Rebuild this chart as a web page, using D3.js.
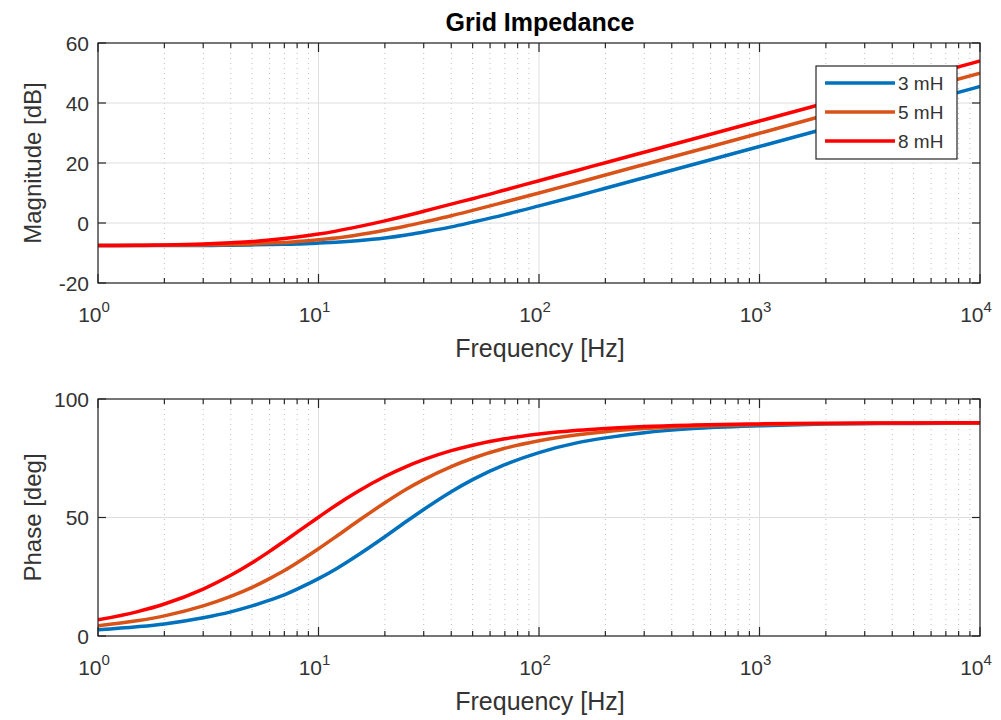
<!DOCTYPE html>
<html>
<head>
<meta charset="utf-8">
<script src="https://cdn.jsdelivr.net/npm/d3@7"></script>
<style>
  body { margin: 0; background: #fff; }
  svg text { font-family: "Liberation Sans", Arial, sans-serif; }
</style>
</head>
<body>
<div id="chart"></div>
<script>
// ── Data ────────────────────────────────────────────────────────────────────
const freqs = [1, 1.5, 2, 3, 4, 5, 6, 7, 8, 10, 12, 15, 20, 25, 30, 40, 50, 70, 100, 150, 200, 300, 500, 1000, 2000, 5000, 10000];

const mag3mH = [-7.5, -7.5, -7.5, -7.5, -7.4, -7.3, -7.2, -7.1, -7.0, -6.7, -6.4, -5.9, -5.0, -4.0, -3.0, -1.3, 0.3, 2.8, 5.7, 9.1, 11.6, 15.1, 19.5, 25.5, 31.5, 39.5, 45.5];
const mag5mH = [-7.5, -7.5, -7.4, -7.3, -7.2, -7.0, -6.7, -6.5, -6.2, -5.6, -5.0, -4.0, -2.4, -1.0, 0.3, 2.4, 4.2, 7.0, 10.0, 13.5, 16.0, 19.5, 23.9, 29.9, 36.0, 43.9, 49.9];
const mag8mH = [-7.5, -7.4, -7.3, -7.0, -6.6, -6.2, -5.7, -5.2, -4.7, -3.7, -2.7, -1.3, 0.7, 2.4, 3.9, 6.3, 8.1, 11.0, 14.1, 17.6, 20.1, 23.6, 28.0, 34.0, 40.0, 48.0, 54.0];

const ph3mH = [2.6, 3.9, 5.1, 7.7, 10.2, 12.7, 15.1, 17.4, 19.8, 24.2, 28.3, 34.0, 41.9, 48.3, 53.4, 60.9, 66.0, 72.3, 77.4, 81.6, 83.6, 85.8, 87.5, 88.7, 89.4, 89.7, 89.9];
const ph5mH = [4.3, 6.4, 8.5, 12.7, 16.7, 20.5, 24.2, 27.6, 30.9, 36.8, 41.9, 48.3, 56.2, 61.9, 66.0, 71.5, 75.0, 79.2, 82.4, 84.9, 86.2, 87.5, 88.5, 89.2, 89.6, 89.9, 89.9];
const ph8mH = [6.8, 10.2, 13.5, 19.8, 25.6, 30.9, 35.7, 40.0, 43.8, 50.1, 55.2, 60.9, 67.3, 71.5, 74.4, 78.2, 80.5, 83.2, 85.2, 86.8, 87.6, 88.4, 89.0, 89.5, 89.8, 89.9, 90.0];

const seriesNames  = ["3 mH", "5 mH", "8 mH"];
const seriesColors = ["#0072BD", "#D95319", "#FF0000"];

const magTicks   = [-20, 0, 20, 40, 60];
const phaseTicks = [0, 50, 100];
const decadeExps = [0, 1, 2, 3, 4];

// ── Layout ──────────────────────────────────────────────────────────────────
const W = 1001, H = 720;
const left = 98, right = 980;
const axisColor = "#262626";

const svg = d3.select("#chart").append("svg")
  .attr("width", W).attr("height", H);

const x = d3.scaleLog().domain([1, 10000]).range([left, right]);

const majorX = decadeExps.map(e => Math.pow(10, e));
const minorX = [];
decadeExps.slice(0, -1).forEach(e => {
  for (let k = 2; k <= 9; k++) minorX.push(k * Math.pow(10, e));
});

// title
svg.append("text")
  .attr("x", (left + right) / 2 + 1).attr("y", 31)
  .attr("text-anchor", "middle")
  .style("font-size", "25px").style("font-weight", "bold")
  .style("fill", "#000")
  .text("Grid Impedance");

function drawPanel(top, bottom, yDomain, yTicks, yLabel, data, withLegend) {
  const y = d3.scaleLinear().domain(yDomain).range([bottom, top]);
  const g = svg.append("g");

  // minor dotted grid
  g.selectAll(".minor").data(minorX).enter().append("line")
    .attr("x1", d => x(d)).attr("x2", d => x(d))
    .attr("y1", top).attr("y2", bottom)
    .attr("stroke", "#bdbdbd").attr("stroke-width", 1)
    .attr("stroke-dasharray", "1,4");

  // major grid
  g.selectAll(".majx").data(majorX).enter().append("line")
    .attr("x1", d => x(d)).attr("x2", d => x(d))
    .attr("y1", top).attr("y2", bottom)
    .attr("stroke", "#dedede").attr("stroke-width", 1);
  g.selectAll(".majy").data(yTicks).enter().append("line")
    .attr("x1", left).attr("x2", right)
    .attr("y1", d => y(d)).attr("y2", d => y(d))
    .attr("stroke", "#dedede").attr("stroke-width", 1);

  // curves
  const line = d3.line()
    .x((d, i) => x(freqs[i]))
    .y(d => y(d))
    .curve(d3.curveMonotoneX);

  const clipId = "clip" + top;
  svg.append("clipPath").attr("id", clipId)
    .append("rect").attr("x", left).attr("y", top)
    .attr("width", right - left).attr("height", bottom - top);

  data.forEach((vals, i) => {
    g.append("path")
      .datum(vals)
      .attr("clip-path", `url(#${clipId})`)
      .attr("fill", "none")
      .attr("stroke", seriesColors[i])
      .attr("stroke-width", 3.5)
      .attr("d", line);
  });

  // box
  g.append("rect")
    .attr("x", left).attr("y", top)
    .attr("width", right - left).attr("height", bottom - top)
    .attr("fill", "none").attr("stroke", axisColor).attr("stroke-width", 1.2);

  // ticks (inward, top & bottom, left & right)
  [[majorX, 9], [minorX, 5]].forEach(([vals, len]) => {
    g.selectAll(null).data(vals).enter().append("line")
      .attr("x1", d => x(d)).attr("x2", d => x(d))
      .attr("y1", bottom).attr("y2", bottom - len)
      .attr("stroke", axisColor).attr("stroke-width", 1.2);
    g.selectAll(null).data(vals).enter().append("line")
      .attr("x1", d => x(d)).attr("x2", d => x(d))
      .attr("y1", top).attr("y2", top + len)
      .attr("stroke", axisColor).attr("stroke-width", 1.2);
  });
  g.selectAll(null).data(yTicks).enter().append("line")
    .attr("x1", left).attr("x2", left + 8)
    .attr("y1", d => y(d)).attr("y2", d => y(d))
    .attr("stroke", axisColor).attr("stroke-width", 1.2);
  g.selectAll(null).data(yTicks).enter().append("line")
    .attr("x1", right).attr("x2", right - 8)
    .attr("y1", d => y(d)).attr("y2", d => y(d))
    .attr("stroke", axisColor).attr("stroke-width", 1.2);

  // y tick labels
  g.selectAll(null).data(yTicks).enter().append("text")
    .attr("x", left - 9).attr("y", d => y(d))
    .attr("dy", "0.36em")
    .attr("text-anchor", "end")
    .style("font-size", "21px").style("fill", "#333")
    .text(d => d);

  // x tick labels 10^n
  const xl = g.selectAll(null).data(decadeExps).enter().append("text")
    .attr("x", d => x(Math.pow(10, d)) - 4).attr("y", bottom + 39)
    .attr("text-anchor", "middle")
    .style("font-size", "21px").style("fill", "#333");
  xl.append("tspan").text("10");
  xl.append("tspan").attr("dy", -10).style("font-size", "15px").text(d => d);

  // axis labels
  g.append("text")
    .attr("x", (left + right) / 2 + 1).attr("y", bottom + 74)
    .attr("text-anchor", "middle")
    .style("font-size", "25px").style("fill", "#333")
    .text("Frequency [Hz]");
  g.append("text")
    .attr("transform", `translate(${41},${(top + bottom) / 2}) rotate(-90)`)
    .attr("text-anchor", "middle")
    .style("font-size", "24px").style("fill", "#333")
    .text(yLabel);

  if (withLegend) {
    const lg = svg.append("g").attr("transform", "translate(816,66)");
    lg.append("rect")
      .attr("width", 141).attr("height", 93)
      .attr("fill", "#fff").attr("stroke", axisColor).attr("stroke-width", 1.2);
    seriesNames.forEach((name, i) => {
      const yy = 17 + i * 29;
      lg.append("line")
        .attr("x1", 9).attr("x2", 79).attr("y1", yy).attr("y2", yy)
        .attr("stroke", seriesColors[i]).attr("stroke-width", 3.5);
      lg.append("text")
        .attr("x", 82).attr("y", yy).attr("dy", "0.36em")
        .style("font-size", "19px").style("fill", "#333")
        .text(name);
    });
  }
}

drawPanel(43, 283, [-20, 60], magTicks, "Magnitude [dB]", [mag3mH, mag5mH, mag8mH], true);
drawPanel(399, 636, [0, 100], phaseTicks, "Phase [deg]", [ph3mH, ph5mH, ph8mH], false);
</script>
</body>
</html>
